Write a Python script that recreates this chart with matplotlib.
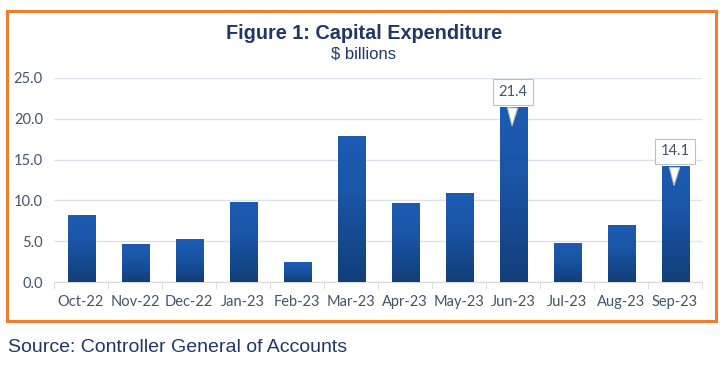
import numpy as np
import matplotlib.pyplot as plt
from matplotlib.patches import Rectangle
from matplotlib.colors import LinearSegmentedColormap

# data ($ billions)
months = ["Oct-22", "Nov-22", "Dec-22", "Jan-23", "Feb-23", "Mar-23",
          "Apr-23", "May-23", "Jun-23", "Jul-23", "Aug-23", "Sep-23"]
capex = [8.1, 4.6, 5.2, 9.8, 2.4, 17.8, 9.6, 10.9, 21.4, 4.7, 6.9, 14.1]
labelled = ["Jun-23", "Sep-23"]
yticks = [0, 5, 10, 15, 20, 25]

navy = "#1f3864"
tick_col = "#44546a"

fig = plt.figure(figsize=(7.23, 3.67), dpi=100)
ax = fig.add_axes([0.0747, 0.2316, 0.8963, 0.5559])

# orange frame round the chart
fig.patches.append(Rectangle((0.0097, 0.125), 0.9803, 0.845, transform=fig.transFigure,
                             fill=False, edgecolor="#ed7d31", linewidth=2.2))

cmap = LinearSegmentedColormap.from_list("bar", [(0, "#123e79"), (0.6, "#1a55a6"), (1, "#1d5cb2")])
grad = np.linspace(0, 1, 256).reshape(-1, 1)
x = np.arange(len(months))
w = 0.5
# solid bars underneath, gradient image on top
bars = ax.bar(x, capex, width=w, color="#1c59ad", edgecolor="#5a88cc", linewidth=0.7, zorder=3)
for b in bars:
    x0, h = b.get_x(), b.get_height()
    ax.imshow(grad, extent=[x0, x0 + w, 0, h], origin="lower",
              aspect="auto", cmap=cmap, zorder=3.5)

ax.set_xlim(-0.5, len(months) - 0.5)
ax.set_ylim(0, 25)
ax.set_yticks(yticks)
ax.set_yticklabels([f"{v:.1f}" for v in yticks])
ax.set_xticks(x)
ax.set_xticklabels(months)
ax.set_xticks(np.arange(len(months) + 1) - 0.5, minor=True)
ax.tick_params(axis="x", which="major", length=0, pad=9)
ax.tick_params(axis="x", which="minor", length=5, color="#d9d9d9")
ax.tick_params(axis="y", length=0, pad=8)
for t in ax.get_xticklabels() + ax.get_yticklabels():
    t.set_fontfamily("Lato")
    t.set_fontsize(10.5)
    t.set_color(tick_col)

ax.grid(axis="y", color="#dde3ec", linewidth=1, zorder=0)
for s in ["top", "right", "left"]:
    ax.spines[s].set_visible(False)
ax.spines["bottom"].set_color("#d9d9d9")

# callout labels
for m in labelled:
    i = months.index(m)
    v = capex[i]
    ax.annotate(f"{v:.1f}", xy=(i - 0.02, v - 2.6), xytext=(i, v + 1.9),
                ha="center", va="center", fontsize=10.5, family="Lato", color=tick_col,
                bbox=dict(boxstyle="square,pad=0.4", fc="white", ec="#bfbfbf", lw=0.8),
                arrowprops=dict(arrowstyle="wedge,tail_width=0.7,shrink_factor=0.5",
                                fc="white", ec="#bfbfbf", lw=0.8), zorder=6)

fig.text(0.503, 0.91, "Figure 1: Capital Expenditure", ha="center", va="center",
         fontsize=14.3, fontweight="bold", color=navy, family="Liberation Sans")
fig.text(0.503, 0.853, "$ billions", ha="center", va="center",
         fontsize=12, color=navy, family="Liberation Sans")
fig.text(0.011, 0.054, "Source: Controller General of Accounts", ha="left", va="center",
         fontsize=14, color=navy, family="Liberation Sans")

fig.savefig("out.png", dpi=100)
